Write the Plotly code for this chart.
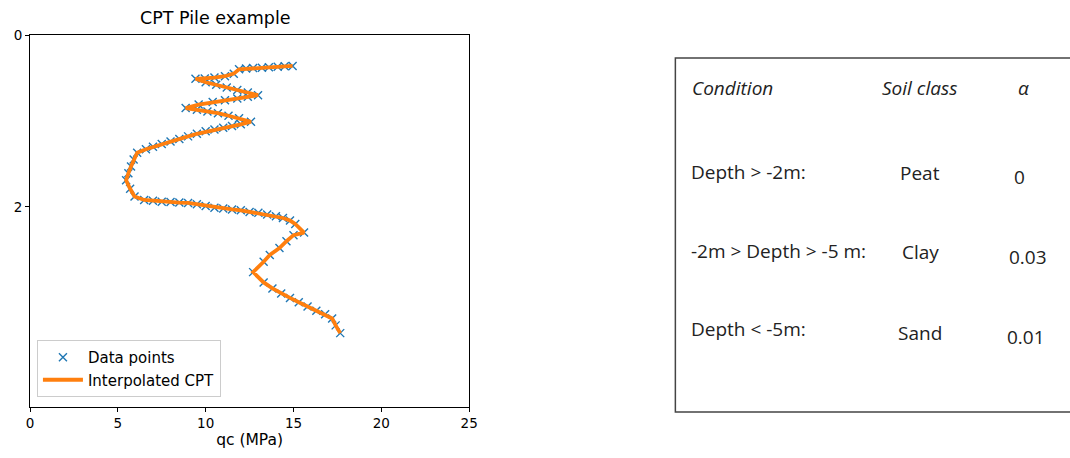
import plotly.graph_objects as go

# Data points (qc in MPa, depth in m)
qc = [14.95, 14.5, 14.1, 13.6, 13.2, 12.7, 12.3, 11.9, 11.6, 11.1, 10.5, 9.95, 9.42,
      10.0, 10.6, 11.2, 11.8, 12.4, 12.98,
      12.4, 11.8, 11.1, 10.4, 9.6, 8.86,
      9.5, 10.1, 10.7, 11.3, 11.9, 12.58,
      12.0, 11.5, 11.0, 10.5, 10.0, 9.5, 9.0, 8.5, 8.0, 7.5, 7.0, 6.6, 6.1,
      5.9, 5.75, 5.6, 5.47,
      5.7, 5.95,
      6.5, 7.0, 7.5, 8.0, 8.5, 9.0, 9.5, 10.0, 10.5, 11.0, 11.5, 12.0, 12.5, 13.0,
      13.5, 14.0, 14.4, 14.8, 15.1, 15.6,
      15.0, 14.6, 14.2, 13.65, 13.3, 12.7,
      13.3, 13.8, 14.3, 14.8, 15.3, 15.8, 16.3, 16.8, 17.2, 17.4, 17.66]
depth = [0.36, 0.365, 0.37, 0.375, 0.38, 0.385, 0.39, 0.40, 0.45, 0.48, 0.495, 0.505, 0.51,
         0.55, 0.58, 0.61, 0.64, 0.67, 0.70,
         0.72, 0.74, 0.76, 0.78, 0.81, 0.85,
         0.87, 0.89, 0.91, 0.94, 0.97, 1.01,
         1.04, 1.06, 1.08, 1.10, 1.12, 1.15, 1.18, 1.21, 1.24, 1.27, 1.30, 1.33, 1.37,
         1.45, 1.53, 1.61, 1.69,
         1.79, 1.88,
         1.92, 1.93, 1.94, 1.945, 1.95, 1.955, 1.97, 1.99, 2.01, 2.02, 2.03, 2.04, 2.06, 2.07,
         2.09, 2.11, 2.13, 2.16, 2.20, 2.30,
         2.33, 2.40, 2.48, 2.56, 2.64, 2.76,
         2.88, 2.95, 3.01, 3.06, 3.11, 3.16, 3.21, 3.25, 3.30, 3.38, 3.47]

x_ticks = [0, 5, 10, 15, 20, 25]
y_ticks = [0, 2]

table_header = ["Condition", "Soil class", "α"]
conditions = ["Depth > -2m:", "-2m > Depth > -5 m:", "Depth < -5m:"]
soil_classes = ["Peat", "Clay", "Sand"]
alphas = ["0", "0.03", "0.01"]

W, H = 1070, 458
ML, MR, MT, MB = 30, 0, 35, 51
PW = W - ML - MR
PH = H - MT - MB


def px(x):
    return (x - ML) / PW


def py(y):
    return (H - MB - y) / PH


fig = go.Figure()
fig.add_trace(go.Scatter(
    x=qc, y=depth, mode="markers", name="Data points",
    marker=dict(symbol="x-thin", size=8, color="#1f77b4",
                line=dict(width=1.4, color="#1f77b4"))))
fig.add_trace(go.Scatter(
    x=qc, y=depth, mode="lines", name="Interpolated CPT",
    line=dict(color="#ff7f0e", width=3.8)))

axis_common = dict(showgrid=False, zeroline=False, showline=True, linecolor="black",
                   linewidth=1, mirror=True, ticks="outside", ticklen=4,
                   tickcolor="black", tickfont=dict(family="DejaVu Sans", size=13.5, color="black"))

fig.update_layout(
    width=W, height=H,
    margin=dict(l=ML, r=MR, t=MT, b=MB),
    paper_bgcolor="white", plot_bgcolor="white",
    font=dict(family="DejaVu Sans", size=13, color="black"),
    xaxis=dict(range=[0, 25], domain=[0, px(473)], tickvals=x_ticks,
               title=dict(text="qc (MPa)", font=dict(size=15.5), standoff=3), **axis_common),
    yaxis=dict(range=[4.33, 0], tickvals=y_ticks, **axis_common),
    legend=dict(x=px(37), y=py(397), xanchor="left", yanchor="bottom",
                bgcolor="rgba(255,255,255,0.8)", bordercolor="#cccccc", borderwidth=1,
                font=dict(family="DejaVu Sans", size=15), tracegroupgap=0,
                itemwidth=40),
    showlegend=True,
)

# Title (positioned as in reference)
fig.add_annotation(text="CPT Pile example", xref="paper", yref="paper",
                   x=px(217), y=py(18), xanchor="center", yanchor="middle",
                   showarrow=False, font=dict(family="DejaVu Sans", size=17.5, color="black"))

# Table box
fig.add_shape(type="rect", xref="paper", yref="paper",
              x0=px(681), x1=px(1080), y0=py(412), y1=py(58),
              line=dict(color="#444444", width=1.5), fillcolor="rgba(0,0,0,0)")

tfont = dict(family="Open Sans", size=19, color="#222222")
ifont = dict(family="Open Sans", size=19, color="#222222", style="italic")

fig.add_annotation(text=table_header[0], xref="paper", yref="paper", x=px(696), y=py(88),
                   xanchor="left", yanchor="middle", showarrow=False, font=ifont)
fig.add_annotation(text=table_header[1], xref="paper", yref="paper", x=px(927), y=py(88),
                   xanchor="center", yanchor="middle", showarrow=False, font=ifont)
fig.add_annotation(text=table_header[2], xref="paper", yref="paper", x=px(1032), y=py(88),
                   xanchor="center", yanchor="middle", showarrow=False, font=ifont)

row_y = [172, 251, 329]
soil_y = [173, 252, 333]
alpha_y = [177, 257, 337]
alpha_x = [1028, 1037, 1035]
for i in range(3):
    fig.add_annotation(text=conditions[i], xref="paper", yref="paper", x=px(695), y=py(row_y[i]),
                       xanchor="left", yanchor="middle", showarrow=False, font=tfont)
    fig.add_annotation(text=soil_classes[i], xref="paper", yref="paper", x=px(928), y=py(soil_y[i]),
                       xanchor="center", yanchor="middle", showarrow=False, font=tfont)
    fig.add_annotation(text=alphas[i], xref="paper", yref="paper", x=px(alpha_x[i]), y=py(alpha_y[i]),
                       xanchor="center", yanchor="middle", showarrow=False, font=tfont)

fig.write_html("out.html")
